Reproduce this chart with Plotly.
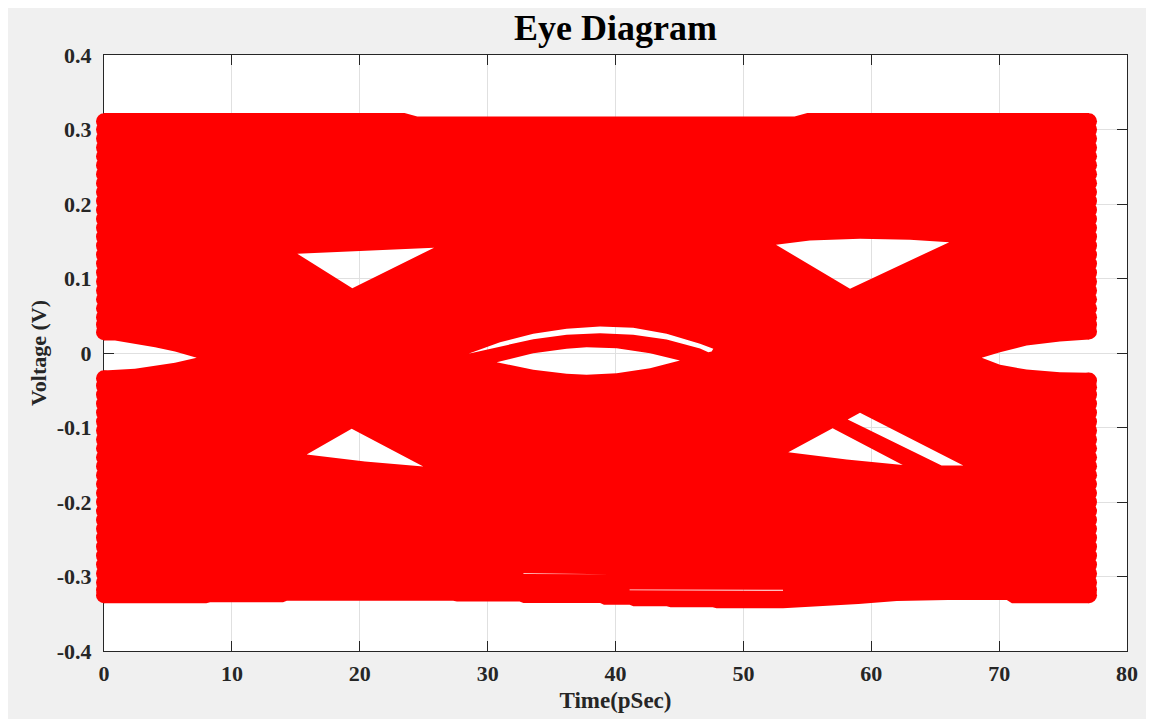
import plotly.graph_objects as go

# ---------------- data (time in ps, voltage in V) ----------------
# upper envelope of the red (overlapping traces) region
top_t = [0.0, 23.5, 24.5, 54.0, 55.0, 77.03]
top_v = [0.322, 0.322, 0.3176, 0.3176, 0.322, 0.322]

# lower envelope (left to right)
bottom_t = [0.0, 8.0, 8.3, 14.0, 14.3, 27.3, 27.6, 32.5, 32.8, 38.8, 39.1, 41.1, 41.4,
            44.0, 44.3, 47.6, 47.9, 53.1, 56.0, 59.0, 62.0, 66.0, 70.6, 71.0, 77.03]
bottom_v = [-0.336, -0.336, -0.3347, -0.3347, -0.3324, -0.3324, -0.3337, -0.3337, -0.3355,
            -0.3355, -0.3378, -0.3378, -0.340, -0.340, -0.3414, -0.3414, -0.3427, -0.3427,
            -0.340, -0.337, -0.333, -0.3315, -0.3315, -0.336, -0.336]

# eye opening at the left edge (t = 0)
left_eye_bot_t = [0.0, 2.42, 3.99, 5.55, 7.25]
left_eye_bot_v = [-0.0235, -0.0213, -0.0177, -0.0132, -0.0065]
left_eye_top_t = [5.55, 3.99, 2.42, 0.86, 0.0]
left_eye_top_v = [0.002, 0.0078, 0.0123, 0.0168, 0.0168]

# eye opening at the right edge
right_eye_top_t = [77.03, 74.76, 72.15, 70.07, 68.64]
right_eye_top_v = [0.0181, 0.0154, 0.0101, 0.0011, -0.0065]
right_eye_bot_t = [70.07, 72.15, 74.76, 77.03]
right_eye_bot_v = [-0.0159, -0.0222, -0.0257, -0.0266]

# open (white) regions inside the eye
hole_ul_t = [15.12, 19.42, 25.81, 15.12]
hole_ul_v = [0.1332, 0.087, 0.1413, 0.1332]
hole_ll_t = [15.85, 20.41, 24.97, 19.37, 15.85]
hole_ll_v = [-0.1363, -0.1457, -0.1524, -0.1018, -0.1363]
hole_ur_t = [52.55, 58.34, 66.10, 63.03, 59.12, 55.20, 52.55]
hole_ur_v = [0.1453, 0.0862, 0.1488, 0.152, 0.1533, 0.151, 0.1453]
hole_lr_t = [53.51, 58.08, 62.46, 56.98, 53.51]
hole_lr_v = [-0.1332, -0.143, -0.1502, -0.101, -0.1332]
hole_stripe_t = [58.16, 65.50, 67.20, 59.12, 58.16]
hole_stripe_v = [-0.0893, -0.1511, -0.1511, -0.0803, -0.0893]
hole_lens_t = [30.71, 33.57, 36.18, 37.74, 40.09, 42.70, 45.04, 42.70, 40.09, 37.74, 36.18, 33.57, 30.71]
hole_lens_v = [-0.0123, -0.0226, -0.0280, -0.0293, -0.0271, -0.0204, -0.0101,
               -0.0002, 0.0065, 0.0078, 0.0056, -0.0002, -0.0123]
hole_arc_t = [28.49, 30.97, 33.57, 36.18, 38.79, 41.39, 44.00, 46.61, 47.26, 47.52, 47.65,
              46.61, 44.00, 41.39, 38.79, 36.18, 33.57, 30.97, 28.49]
hole_arc_v = [-0.0011, 0.0087, 0.0186, 0.0244, 0.0266, 0.0244, 0.0181, 0.0060, 0.0011, 0.0020, 0.0056,
              0.0123, 0.0257, 0.0338, 0.0356, 0.0325, 0.0257, 0.0145, -0.0011]
sliver1_t = [32.8, 39.6, 39.6, 32.8, 32.8]
sliver1_v = [-0.2968, -0.2970, -0.2960, -0.2958, -0.2968]
sliver2_t = [41.1, 53.1, 53.1, 41.1, 41.1]
sliver2_v = [-0.3186, -0.3192, -0.3178, -0.3176, -0.3186]

# sample values of the traces at the first and last time instant
t_start = 0.0
t_end = 77.03
start_levels = [0.311, 0.300, 0.288, 0.276, 0.264, 0.252, 0.240, 0.228, 0.216, 0.204, 0.192,
                0.180, 0.168, 0.156, 0.144, 0.132, 0.120, 0.108, 0.096, 0.084, 0.072, 0.060,
                0.048, 0.038, 0.028,
                -0.034, -0.044, -0.056, -0.068, -0.080, -0.092, -0.104, -0.116, -0.128,
                -0.140, -0.152, -0.164, -0.176, -0.188, -0.200, -0.212, -0.224, -0.236,
                -0.248, -0.260, -0.272, -0.284, -0.296, -0.308, -0.318, -0.325]
end_levels = [0.311, 0.300, 0.288, 0.276, 0.264, 0.252, 0.240, 0.228, 0.216, 0.204, 0.192,
              0.180, 0.168, 0.156, 0.144, 0.132, 0.120, 0.108, 0.096, 0.084, 0.072, 0.060,
              0.048, 0.038, 0.029,
              -0.037, -0.046, -0.056, -0.068, -0.080, -0.092, -0.104, -0.116, -0.128,
              -0.140, -0.152, -0.164, -0.176, -0.188, -0.200, -0.212, -0.224, -0.236,
              -0.248, -0.260, -0.272, -0.284, -0.296, -0.308, -0.318, -0.325]

x_ticks = [0, 10, 20, 30, 40, 50, 60, 70, 80]
x_ticktext = ["0", "10", "20", "30", "40", "50", "60", "70", "80"]
y_ticks = [-0.4, -0.3, -0.2, -0.1, 0, 0.1, 0.2, 0.3, 0.4]
y_ticktext = ["-0.4", "-0.3", "-0.2", "-0.1", "0", "0.1", "0.2", "0.3", "0.4"]

# ---------------- build the region ----------------
outer_t = (top_t + right_eye_top_t + right_eye_bot_t + bottom_t[::-1]
           + left_eye_bot_t + left_eye_top_t + [top_t[0]])
outer_v = (top_v + right_eye_top_v + right_eye_bot_v + bottom_v[::-1]
           + left_eye_bot_v + left_eye_top_v + [top_v[0]])

holes = [(hole_ul_t, hole_ul_v), (hole_ll_t, hole_ll_v), (hole_ur_t, hole_ur_v),
         (hole_lr_t, hole_lr_v), (hole_stripe_t, hole_stripe_v), (hole_lens_t, hole_lens_v),
         (hole_arc_t, hole_arc_v), (sliver1_t, sliver1_v), (sliver2_t, sliver2_v)]
xs = list(outer_t)
ys = list(outer_v)
for ht, hv in holes:
    xs += [None] + ht
    ys += [None] + hv

RED = "#ff0000"
AX = "#262626"
FONT = "Liberation Serif"

fig = go.Figure()
fig.add_trace(go.Scatter(x=xs, y=ys, mode="lines", fill="toself", fillcolor=RED,
                         line=dict(width=0, color=RED), hoverinfo="skip", showlegend=False))
fig.add_trace(go.Scatter(x=[t_start] * len(start_levels), y=start_levels, mode="markers",
                         marker=dict(size=16, color=RED, line=dict(width=0)),
                         cliponaxis=False, hoverinfo="skip", showlegend=False))
fig.add_trace(go.Scatter(x=[t_end] * len(end_levels), y=end_levels, mode="markers",
                         marker=dict(size=16, color=RED, line=dict(width=0)),
                         cliponaxis=False, hoverinfo="skip", showlegend=False))

axis_common = dict(showline=True, linecolor=AX, linewidth=1, mirror="ticks", ticks="inside",
                   ticklen=10, tickcolor=AX, showgrid=True, gridcolor="#e0e0e0", gridwidth=1,
                   zeroline=False, layer="below traces",
                   tickfont=dict(family=FONT, size=22, color=AX, weight="bold"))

W, H = 1146, 711
fig.update_layout(
    width=W, height=H,
    margin=dict(l=96, r=27, t=47, b=68, autoexpand=False),
    paper_bgcolor="#f0f0f0", plot_bgcolor="white",
    title=dict(text="Eye Diagram", x=0.5, xref="paper", y=1 - 19 / H, yref="container",
               xanchor="center", yanchor="middle",
               font=dict(family=FONT, size=36, color="black", weight="bold")),
    xaxis=dict(range=[0, 80], tickvals=x_ticks, ticktext=x_ticktext, ticklabelstandoff=3,
               title=dict(text="Time(pSec)", standoff=6,
                          font=dict(family=FONT, size=23, color=AX, weight="bold")),
               **axis_common),
    yaxis=dict(range=[-0.4, 0.4], tickvals=y_ticks, ticktext=y_ticktext, ticklabelstandoff=7,
               title=dict(text="Voltage (V)", standoff=4,
                          font=dict(family=FONT, size=22, color=AX, weight="bold")),
               **axis_common),
)

fig.write_html("out.html")
